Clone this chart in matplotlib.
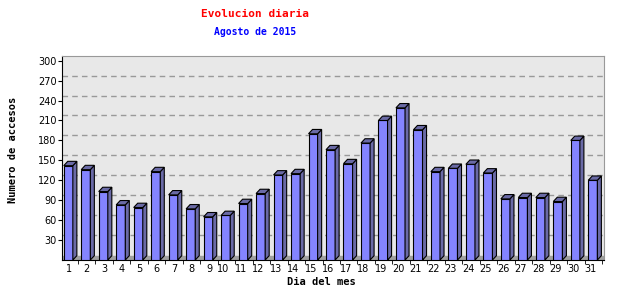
# Evolucion diaria de accesos - barras con efecto 3D

import matplotlib
matplotlib.use('Agg')
import matplotlib.pyplot as plt
from matplotlib.patches import Polygon

# datos
dias = [str(d) for d in range(1, 32)]
accesos = [142, 136, 103, 83, 79, 133, 98, 77, 65, 67, 85, 100, 128, 130, 190,
           166, 145, 176, 210, 229, 196, 133, 138, 144, 131, 92, 94, 94, 88, 180, 120]
yticks = [30, 60, 90, 120, 150, 180, 210, 240, 270, 300]

# estilo
color_frente = '#8484FF'
color_lado = '#6A6AA6'
fondo = '#E8E8E8'
ancho = 0.52      # ancho de la cara frontal
dx = 0.23         # profundidad en x
dy = 6.5          # profundidad en y (unidades de datos)
dy_pared = 7.5

fig = plt.figure(figsize=(6.4, 3.0), dpi=100)
ax = fig.add_axes([62 / 640, 40 / 300, 542 / 640, 204.3 / 300])
ax.set_facecolor(fondo)
ax.set_xlim(0, 31)
ax.set_ylim(0, 307.5)

# suelo gris
ax.axhspan(0, dy, color='#A0A0A0', zorder=1)

# lineas de la pared del fondo
ax.hlines([v + dy_pared for v in yticks[:-1]], 0, 31, colors='#999999',
          linestyles=(0, (4, 3)), linewidth=1, zorder=0.5)

# barras
x = [i + 0.1 for i in range(len(accesos))]
ax.bar(x, accesos, width=ancho, align='edge', color=color_frente,
       edgecolor='black', linewidth=0.8, zorder=3)
for xi, v in zip(x, accesos):
    lado = Polygon([(xi + ancho, 0), (xi + ancho + dx, dy), (xi + ancho + dx, v + dy),
                    (xi + ancho, v)], closed=True, facecolor=color_lado,
                   edgecolor='black', linewidth=0.8, zorder=3)
    arriba = Polygon([(xi, v), (xi + ancho, v), (xi + ancho + dx, v + dy),
                      (xi + dx, v + dy)], closed=True, facecolor=color_lado,
                     edgecolor='black', linewidth=0.8, zorder=3)
    ax.add_patch(lado)
    ax.add_patch(arriba)

# ejes
for s in ['top', 'right']:
    ax.spines[s].set_color('#999999')
ax.spines['left'].set_color('black')
ax.spines['bottom'].set_color('black')

ax.set_yticks(yticks)
ax.set_yticklabels([str(v) for v in yticks])
ax.tick_params(axis='y', length=3, labelsize=7, pad=1)

ax.set_xticks([i + 0.58 for i in range(len(dias))])
ax.set_xticklabels(dias, ha='right')
ax.set_xticks([i + 0.9 for i in range(len(dias))], minor=True)
ax.tick_params(axis='x', which='major', length=0, labelsize=7, pad=3)
ax.tick_params(axis='x', which='minor', length=3)

# textos
fig.text(255 / 640, 1 - 14 / 300, 'Evolucion diaria', color='red',
         family='DejaVu Sans Mono', fontweight='bold', fontsize=8, ha='center', va='center')
fig.text(255 / 640, 1 - 32 / 300, 'Agosto de 2015', color='blue',
         family='DejaVu Sans Mono', fontweight='bold', fontsize=7, ha='center', va='center')
fig.text(13 / 640, 1 - 150 / 300, 'Numero de accesos', rotation=90,
         family='DejaVu Sans Mono', fontweight='bold', fontsize=7.5, ha='center', va='center')
fig.text(321 / 640, 1 - 282 / 300, 'Dia del mes',
         family='DejaVu Sans Mono', fontweight='bold', fontsize=7.5, ha='center', va='center')

plt.savefig('out.png', dpi=100, facecolor='white')
